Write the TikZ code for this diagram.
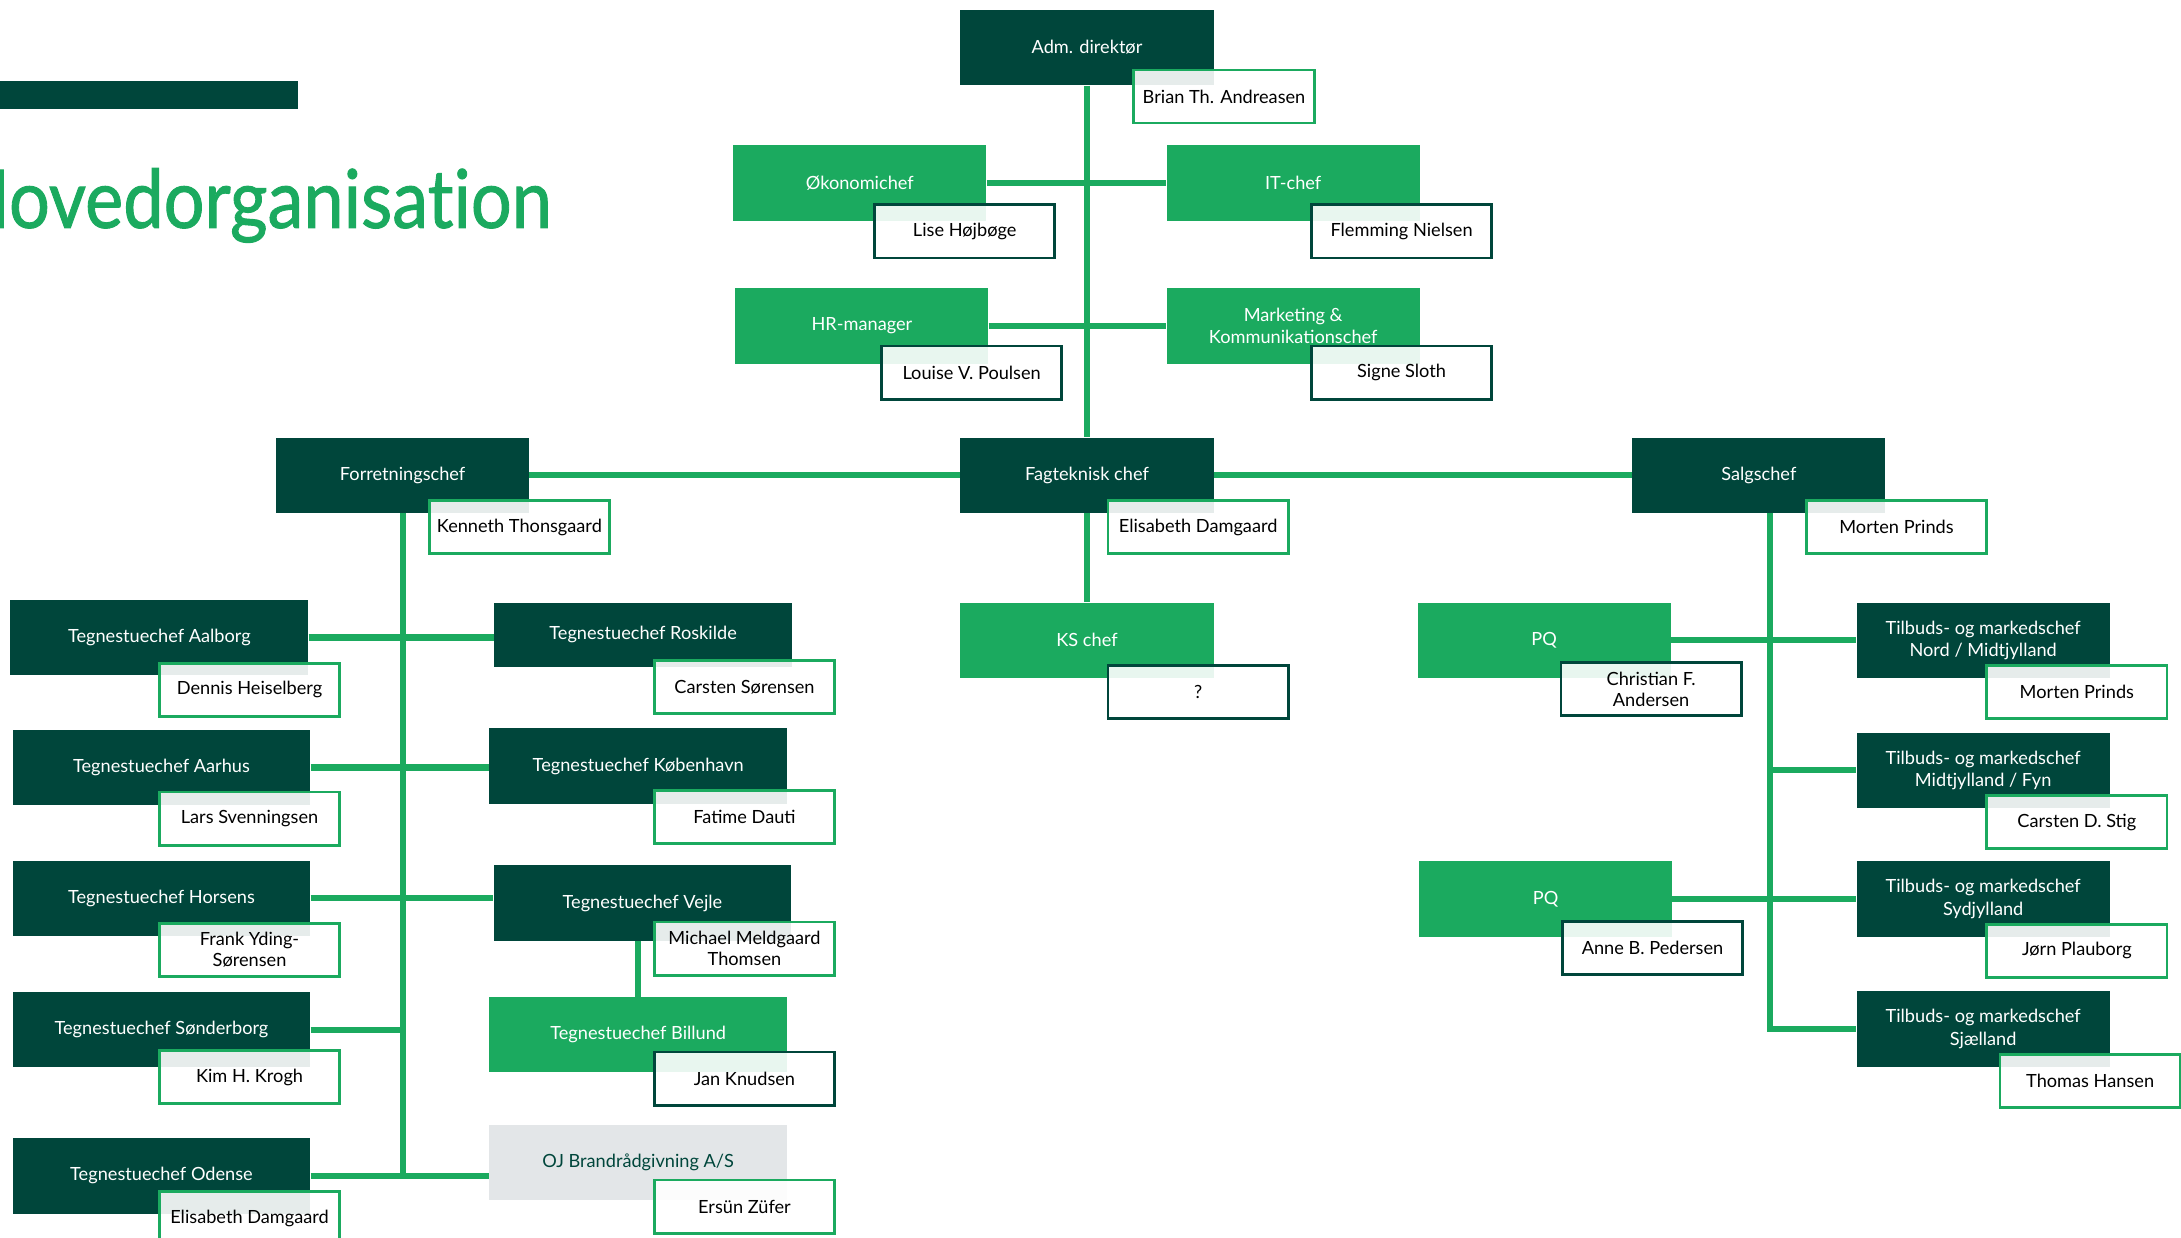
\documentclass[tikz,border=0pt]{standalone}
\usepackage{fontspec}
\setmainfont{Lato}
\newfontfamily\titelfont{Lato}[FakeBold=1.2, Ligatures=NoCommon]
\usetikzlibrary{backgrounds}
\definecolor{moerk}{HTML}{00463B}
\definecolor{lysgroen}{HTML}{1BAA5F}
\definecolor{graa}{HTML}{E3E6E8}

\begin{document}
\begin{tikzpicture}[x=1pt, y=-1pt, font=\fontsize{13}{16}\selectfont, line join=miter,
  boks/.style={rectangle, inner sep=2pt, align=center, minimum width=181pt, minimum height=54pt},
  chef/.style={boks, fill=moerk, text=white},
  lys/.style={boks, fill=lysgroen, text=white},
  tegn/.style={chef, minimum width=213pt},
  navn/.style={rectangle, inner sep=1pt, align=center, minimum width=129pt, minimum height=38pt,
    fill=white, fill opacity=0.9, text opacity=1, draw=lysgroen, line width=2pt, text=black,
    font=\fontsize{13}{15}\selectfont},
  navnm/.style={navn, draw=moerk},
  linje/.style={draw=lysgroen, line width=4.5pt}]
		\useasboundingbox (0,0) rectangle (1560,885.5);
		\clip (0,0) rectangle (1560,885.5);
		% titel
		\fill[moerk] (0,58) rectangle (213,78);
		\node[anchor=base east, inner sep=0, text=lysgroen, font=\titelfont\fontsize{58}{60}\selectfont] (titel) at (395,163) {\scalebox{0.89}[1]{Hovedorganisation}};
		% ledelse
		\node[chef] (adm) at (777.5,34) {Adm. direktør};
		\node[navn] (adm-n) at (875.5,69) {Brian Th. Andreasen};
		\node[lys] (oko) at (615,131) {Økonomichef};
		\node[navnm] (oko-n) at (690,165.5) {Lise Højbøge};
		\node[lys] (it) at (925,131) {IT-chef};
		\node[navnm] (it-n) at (1002.5,165.5) {Flemming Nielsen};
		\node[lys] (hr) at (616.5,233) {HR-manager};
		\node[navnm] (hr-n) at (695,266.5) {Louise V. Poulsen};
		\node[lys] (mark) at (925,233) {Marketing \&\\Kommunikationschef};
		\node[navnm] (mark-n) at (1002.5,266.5) {Signe Sloth};
		\node[chef] (fag) at (777.5,340) {Fagteknisk chef};
		\node[navn] (fag-n) at (857,377) {Elisabeth Damgaard};
		\node[chef] (forr) at (288,340) {Forretningschef};
		\node[navn] (forr-n) at (371.5,377) {Kenneth Thonsgaard};
		\node[chef] (salg) at (1258,340) {Salgschef};
		\node[navn] (salg-n) at (1356.5,377) {Morten Prinds};
		\node[lys] (ks) at (777.5,458) {KS chef};
		\node[navnm] (ks-n) at (857,495) {?};
		% tegnestuer
		\node[tegn] (aalborg) at (114,456) {Tegnestuechef Aalborg};
		\node[navn] (aalborg-n) at (178.5,493.5) {Dennis Heiselberg};
		\node[tegn] (aarhus) at (115.5,549) {Tegnestuechef Aarhus};
		\node[navn] (aarhus-n) at (178.5,585.5) {Lars Svenningsen};
		\node[tegn] (horsens) at (115.5,642.5) {Tegnestuechef Horsens};
		\node[navn] (horsens-n) at (178.5,679.5) {Frank Yding-\\Sørensen};
		\node[tegn] (sonder) at (115.5,736.5) {Tegnestuechef Sønderborg};
		\node[navn] (sonder-n) at (178.5,770.5) {Kim H. Krogh};
		\node[tegn] (odense) at (115.5,841) {Tegnestuechef Odense};
		\node[navn] (odense-n) at (178.5,871.5) {Elisabeth Damgaard};
		\node[tegn, minimum height=46pt] (roskilde) at (460,454) {Tegnestuechef Roskilde};
		\node[navn] (roskilde-n) at (532.5,491.5) {Carsten Sørensen};
		\node[tegn] (kbh) at (456.5,548) {Tegnestuechef København};
		\node[navn] (kbh-n) at (532.5,584.5) {Fatime Dauti};
		\node[tegn] (vejle) at (459.5,646) {Tegnestuechef Vejle};
		\node[navn] (vejle-n) at (532.5,678.5) {Michael Meldgaard\\Thomsen};
		\node[lys, minimum width=213pt] (billund) at (456.5,740) {Tegnestuechef Billund};
		\node[navnm] (billund-n) at (532.5,771.5) {Jan Knudsen};
		\node[boks, minimum width=213pt, fill=graa, text=moerk] (oj) at (456.5,831.5) {OJ Brandrådgivning A/S};
		\node[navn] (oj-n) at (532.5,863) {Ersün Züfer};
		% salg
		\node[lys] (pq1) at (1104.5,458) {PQ};
		\node[navnm] (pq1-n) at (1181,493) {Christian F.\\Andersen};
		\node[chef] (tnord) at (1418.5,458) {Tilbuds- og markedschef\\Nord / Midtjylland};
		\node[navn] (tnord-n) at (1485.5,495) {Morten Prinds};
		\node[chef] (tfyn) at (1418.5,551) {Tilbuds- og markedschef\\Midtjylland / Fyn};
		\node[navn] (tfyn-n) at (1485.5,588) {Carsten D. Stig};
		\node[lys] (pq2) at (1105.5,643) {PQ};
		\node[navnm] (pq2-n) at (1182,678) {Anne B. Pedersen};
		\node[chef] (tsyd) at (1418.5,643) {Tilbuds- og markedschef\\Sydjylland};
		\node[navn] (tsyd-n) at (1485.5,680) {Jørn Plauborg};
		\node[chef] (tsjael) at (1418.5,736) {Tilbuds- og markedschef\\Sjælland};
		\node[navn] (tsjael-n) at (1495,773) {Thomas Hansen};
		\coordinate (sk) at ([xshift=8pt]salg.south);
		% forbindelser
		\begin{scope}[on background layer]
		\draw[linje] (adm.south) -- (fag.north);
		\draw[linje] (oko.east) -- (it.west);
		\draw[linje] (hr.east) -- (mark.west);
		\draw[linje] (forr.east) -- (fag.west);
		\draw[linje] (fag.east) -- (salg.west);
		\draw[linje] (fag.south) -- (ks.north);
		\draw[linje] (forr.south) -- (forr.south |- odense.east);
		\draw[linje] (aalborg.east) -- (aalborg.east -| roskilde.west);
		\draw[linje] (aarhus.east) -- (aarhus.east -| kbh.west);
		\draw[linje] (horsens.east) -- (horsens.east -| vejle.west);
		\draw[linje] (sonder.east) -- (sonder.east -| forr.south);
		\draw[linje] (odense.east) -- (odense.east -| oj.west);
		\draw[linje] (billund.north) -- (billund.north |- vejle.south);
		\draw[linje] (sk) |- (tsjael.west);
		\draw[linje] (pq1.east) -- (tnord.west);
		\draw[linje] (sk |- tfyn.west) -- (tfyn.west);
		\draw[linje] (pq2.east) -- (tsyd.west);
		\end{scope}
\end{tikzpicture}
\end{document}
